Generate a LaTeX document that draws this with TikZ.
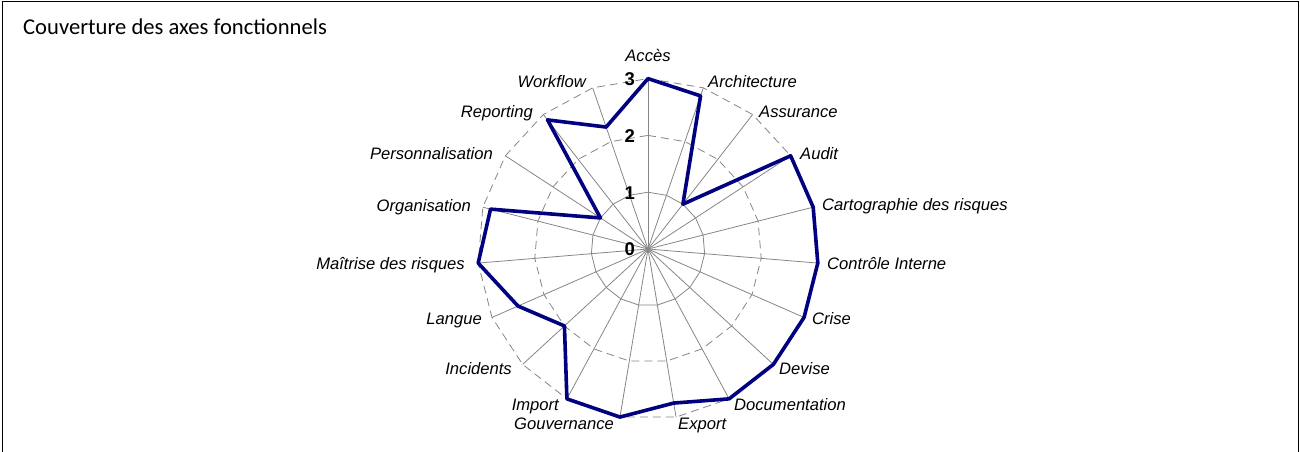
\documentclass[tikz,border=0pt]{standalone}
\usepackage{fontspec}
\setmainfont{Liberation Sans}
\newfontfamily\titlefont{Carlito}
\definecolor{navy}{RGB}{0,0,128}
\definecolor{gridgray}{RGB}{134,134,134}
\begin{document}
\begin{tikzpicture}[x=1pt,y=-1pt,
  grid/.style={draw=gridgray,line width=0.8pt},
  ring/.style={grid, dash pattern=on 8pt off 5pt},
  axlabel/.style={font=\fontsize{16.6}{18}\selectfont\itshape, inner sep=0pt, text height=12pt, text depth=0pt},
  scalelabel/.style={font=\fontsize{18.5}{20}\selectfont\bfseries, inner sep=0pt, text height=13pt, text depth=0pt, anchor=east},
  series/.style={draw=navy, line width=3.6pt, line join=round},
  frame/.style={draw=black, line width=1.3pt}]
\useasboundingbox (0,0) rectangle (1300,452);
% frame
\draw[frame] (2.5,452) -- (2.5,1.5) -- (1298.5,1.5) -- (1298.5,452);
% title
\node[anchor=west, inner sep=0pt, font=\titlefont\fontsize{22.6}{26}\selectfont] (title) at (23,27) {Couverture des axes fonctionnels};
% radar
\coordinate (c) at (648,249);
\begin{scope}[shift={(648,249)}]
  \foreach \k in {0,...,18} {
    \coordinate (e\k) at (\k*360/19-90:170.4);
  }
  \draw[grid] (-90:56.8) \foreach \k in {1,...,18} { -- (\k*360/19-90:56.8) } -- cycle;
  \draw[ring] (-90:113.6) \foreach \k in {1,...,18} { -- (\k*360/19-90:113.6) } -- cycle;
  \draw[ring] (e0) \foreach \k in {1,...,18} { -- (e\k) } -- cycle;
  \foreach \k in {0,...,18} {
    \draw[grid] (c) -- (e\k);
  }
  \foreach \k/\v in {0/3,1/2.85,2/1,3/3,4/3,5/3,6/3,7/3,8/3,9/2.75,10/3,11/3,12/2,13/2.5,14/3,15/2.86,16/1,17/2.88,18/2.27} {
    \coordinate (p\k) at (\k*360/19-90:\v*56.8);
  }
\end{scope}
\draw[series] (p0) \foreach \k in {1,...,18} { -- (p\k) } -- cycle;
% scale labels
\node[scalelabel] (s0) at (635,249) {0};
\node[scalelabel] (s1) at (635,193) {1};
\node[scalelabel] (s2) at (635,136) {2};
\node[scalelabel] (s3) at (635,79) {3};
% axis labels
\node[axlabel] (l0) at (648,56) {Accès};
\node[axlabel,anchor=west] (l1) at (708,82) {Architecture};
\node[axlabel,anchor=west] (l2) at (759,111) {Assurance};
\node[axlabel,anchor=west] (l3) at (800,153) {Audit};
\node[axlabel,anchor=west] (l4) at (822,204) {Cartographie des risques};
\node[axlabel,anchor=west] (l5) at (827,263) {Contrôle Interne};
\node[axlabel,anchor=west] (l6) at (812,318) {Crise};
\node[axlabel,anchor=west] (l7) at (779,368) {Devise};
\node[axlabel,anchor=west] (l8) at (734,404) {Documentation};
\node[axlabel,anchor=west] (l9) at (678,423) {Export};
\node[axlabel,anchor=east] (l10) at (614,423) {Gouvernance};
\node[axlabel,anchor=east] (l11) at (559,404) {Import};
\node[axlabel,anchor=east] (l12) at (512,368) {Incidents};
\node[axlabel,anchor=east] (l13) at (482,318) {Langue};
\node[axlabel,anchor=east] (l14) at (465,263) {Maîtrise des risques};
\node[axlabel,anchor=east] (l15) at (471,205) {Organisation};
\node[axlabel,anchor=east] (l16) at (493,153) {Personnalisation};
\node[axlabel,anchor=east] (l17) at (533,111) {Reporting};
\node[axlabel,anchor=east] (l18) at (586,81) {Workflow};
\end{tikzpicture}
\end{document}
